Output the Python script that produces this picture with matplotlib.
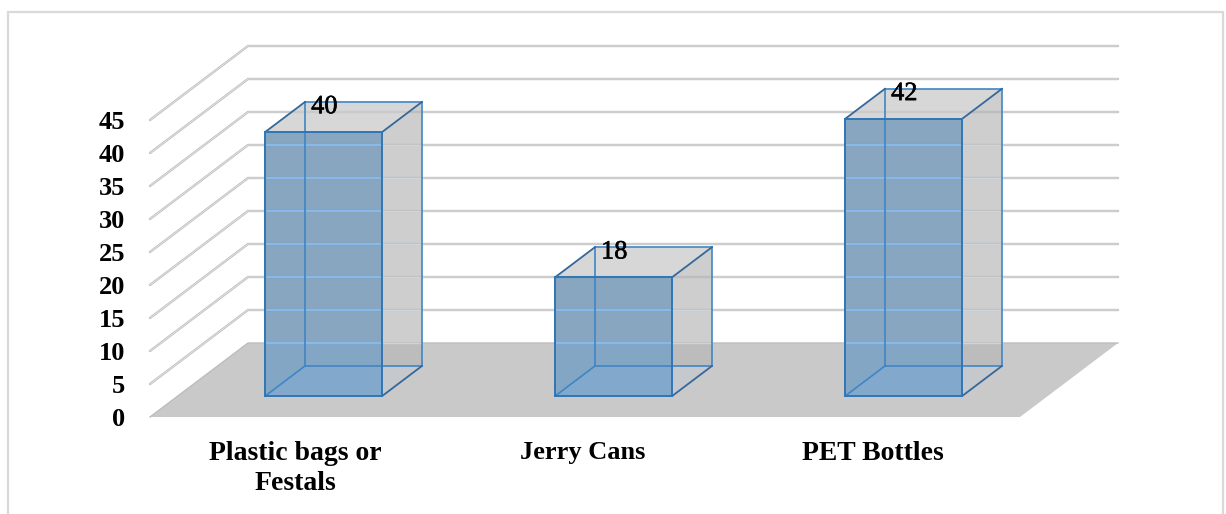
import matplotlib
matplotlib.use('Agg')
import matplotlib.pyplot as plt
import matplotlib.patheffects as pe
from matplotlib.patches import Polygon, Rectangle

categories = ['Plastic bags or\nFestals', 'Jerry Cans', 'PET Bottles']
values = [40, 18, 42]
y_ticks = [0, 5, 10, 15, 20, 25, 30, 35, 40, 45]

plt.rcParams['font.family'] = ['Liberation Serif', 'DejaVu Serif']

W, H = 1226, 514
fig = plt.figure(figsize=(W / 100, H / 100), dpi=100)
ax = fig.add_axes([150 / W, (H - 417) / H, 870 / W, 297 / H])
ax.set_xlim(0, 3)
ax.set_ylim(0, 45)
ax.patch.set_visible(False)
for s in ax.spines.values():
    s.set_visible(False)

# how far the back wall sits behind the front plane, in data units
DX = 98 / 290
DY = 74 / 6.6
# bar box: half width and where it starts/ends along the depth
HALF = 0.2017
D1 = 0.284
D2 = 0.689
SHIFT = 0.003


def pt(x, v, d):
    return (x + DX * d, v + DY * d)


def grid_line(xs, ys, z=1):
    ax.plot(xs, ys, color='#bdbdbd', lw=1.7, clip_on=False, zorder=z, solid_capstyle='round', solid_joinstyle='miter')
    ax.plot(xs, ys, color='#ececec', lw=0.5, clip_on=False, zorder=z + 0.1, solid_joinstyle='miter')


# floor
ax.add_patch(Polygon([pt(0, 0, 0), pt(0, 0, 1), pt(3, 0, 1), pt(3, 0, 0)], closed=True,
                     facecolor='#c9c9c9', edgecolor='none', clip_on=False, zorder=0.5))

# wall and side gridlines
for v in y_ticks:
    p0 = pt(0, v, 0)
    p1 = pt(0, v, 1)
    p2 = pt(3, v, 1)
    if v == 0:
        ax.plot([p0[0], p1[0], p2[0]], [p0[1], p1[1], p2[1]], color='#bdbdbd', lw=1.0, clip_on=False, zorder=1)
    else:
        grid_line([p0[0], p1[0], p2[0]], [p0[1], p1[1], p2[1]])

# bars, drawn as see-through boxes
for i, val in enumerate(values):
    xl = i + 0.5 - HALF + SHIFT
    xr = i + 0.5 + HALF + SHIFT
    fr_x = pt(xr, 0, D1)[0]
    back_y = pt(xl, 0, D2)[1]
    # silhouette of the box in grey, without the floor triangle on the right
    outline = [pt(xl, 0, D1), pt(xr, 0, D1), (fr_x, back_y), pt(xr, 0, D2), pt(xr, val, D2), pt(xl, val, D2),
               pt(xl, val, D1)]
    ax.add_patch(Polygon(outline, closed=True, facecolor='#b5b5b5', alpha=0.65, edgecolor='none',
                         clip_on=False, zorder=2))
    ax.add_patch(Polygon([pt(xr, 0, D1), pt(xr, 0, D2), (fr_x, back_y)], closed=True, facecolor='#c5c9cd',
                         edgecolor='none', clip_on=False, zorder=2))
    top = [pt(xl, val, D1), pt(xr, val, D1), pt(xr, val, D2), pt(xl, val, D2)]
    ax.add_patch(Polygon(top, closed=True, facecolor='white', alpha=0.2, edgecolor='none',
                         clip_on=False, zorder=2.1))
    # blue front
    front = [pt(xl, 0, D1), pt(xr, 0, D1), pt(xr, val, D1), pt(xl, val, D1)]
    ax.add_patch(Polygon(front, closed=True, facecolor='#578ab6', alpha=0.58, edgecolor='none',
                         clip_on=False, zorder=3))
    # the part of the front standing over the floor is lighter
    wall0 = pt(0, 0, 1)[1]
    ax.add_patch(Polygon([pt(xl, 0, D1), pt(xr, 0, D1), (fr_x, wall0), (pt(xl, 0, D1)[0], wall0)], closed=True,
                         facecolor='#8fc2f5', alpha=0.22, edgecolor='none', clip_on=False, zorder=3.05))
    # brighter floor of the box seen through the front
    ax.add_patch(Polygon([pt(xl, 0, D1), pt(xr, 0, D1), (fr_x, back_y), pt(xl, 0, D2)], closed=True,
                         facecolor='#78b8f5', alpha=0.14, edgecolor='none', clip_on=False, zorder=3.1))
    front_top = pt(xl, val, D1)[1]
    for v in y_ticks:
        wall = pt(0, v, 1)[1]
        if wall < front_top:
            a = pt(xl, 0, D1)[0]
            b = pt(xr, 0, D1)[0]
            c = pt(xr, 0, D2)[0]
            ax.plot([a, b], [wall, wall], color='#86bdf0', lw=1.3, clip_on=False, zorder=3.5)
            ax.plot([b, c], [wall, wall], color='#d5e2ec', lw=1.0, alpha=0.7, clip_on=False, zorder=3.5)
    # box edges
    edges = [
        (pt(xl, 0, D2), pt(xl, val, D2)),
        (pt(xl, 0, D2), pt(xr, 0, D2)),
        (pt(xl, 0, D1), pt(xl, 0, D2)),
        (pt(xl, val, D2), pt(xr, val, D2)),
        (pt(xr, 0, D2), pt(xr, val, D2)),
    ]
    for a, b in edges:
        ax.plot([a[0], b[0]], [a[1], b[1]], color='#3f86c6', lw=1.2, clip_on=False, zorder=4)
    edges_dark = [
        (pt(xl, val, D1), pt(xl, val, D2)),
        (pt(xr, val, D1), pt(xr, val, D2)),
        (pt(xr, 0, D1), pt(xr, 0, D2)),
    ]
    for a, b in edges_dark:
        ax.plot([a[0], b[0]], [a[1], b[1]], color='#35689a', lw=1.3, clip_on=False, zorder=4.2)
    ax.add_patch(Polygon(front, closed=True, facecolor='none', edgecolor='#2f75b5', lw=1.4,
                         clip_on=False, zorder=4.5))
    # value label sits just under the top back edge
    ax.text(i + 0.505 + DX * D1, val + DY * D2 - 0.8, str(val), ha='center', va='center',
            fontsize=19, color='black', clip_on=False, zorder=6,
            path_effects=[pe.withStroke(linewidth=0.4, foreground='black')])

ax.set_yticks(y_ticks)
ax.set_yticklabels([str(t) for t in y_ticks], fontsize=19, fontweight='bold')
ax.set_xticks([0.5, 1.493, 2.493])
ax.set_xticklabels(categories, fontsize=20, fontweight='bold', linespacing=1.28)
ax.get_xticklabels()[1].set_fontsize(19)
ax.tick_params(axis='y', length=0, pad=18, colors='black')
ax.tick_params(axis='x', length=0, pad=17, colors='black')

# outer frame runs off the bottom edge
fig.add_artist(Rectangle((7.5 / W, -0.05), (1223 - 7.5) / W, (H - 12) / H + 0.05, transform=fig.transFigure,
                         facecolor='none', edgecolor='#d9d9d9', lw=1.6))

plt.savefig('out.png', dpi=100)
